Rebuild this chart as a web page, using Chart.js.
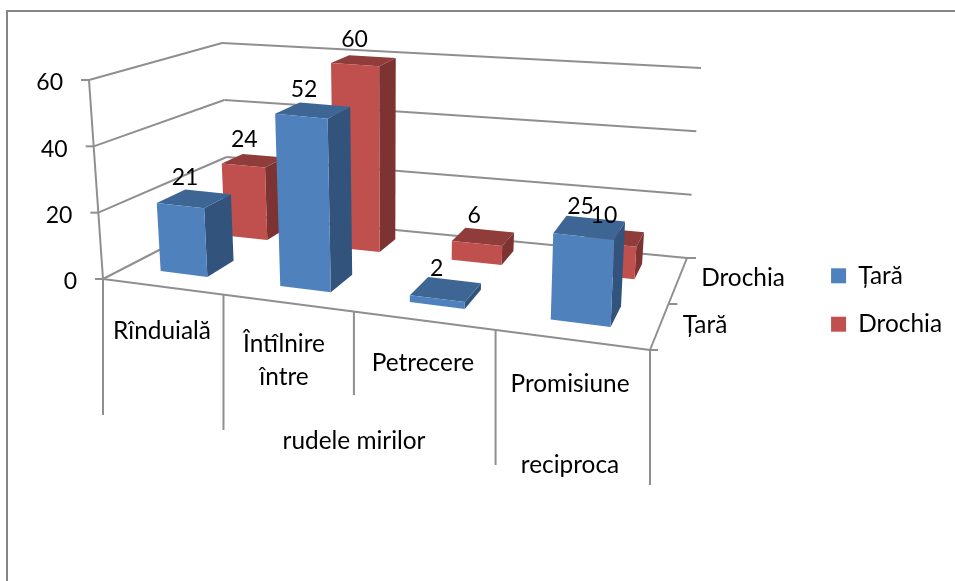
<!DOCTYPE html>
<html>
<head>
<meta charset="utf-8">
<title>Chart</title>
<script src="https://cdn.jsdelivr.net/npm/chart.js@4/dist/chart.umd.js"></script>
<style>
  html, body { margin: 0; padding: 0; background: #fff; overflow: hidden; }
  canvas { display: block; }
</style>
</head>
<body>
<canvas id="myChart" width="955" height="581"></canvas>
<script>
// values
const categories = ['Rînduială', 'Întîlnire între rudele mirilor', 'Petrecere', 'Promisiune reciproca'];
const seriesNames = ['Țară', 'Drochia'];
const taraValues = [21, 52, 2, 25];
const drochiaValues = [24, 60, 6, 10];
const yTicks = [0, 20, 40, 60];

// category axis text, wrapped the same way as the original
const axisText = ['Rînduială', 'Întîlnire', 'între', 'rudele mirilor', 'Petrecere', 'Promisiune', 'reciproca'];
const axisTextPos = [[162, 331], [284, 344], [284, 377], [354, 441], [423, 363], [570, 384], [570, 465]];
const tickEnds = [415, 430, 395, 465, 485];

// the box of the 3d plot on screen: floor and top, front and back corners
const floorFL = [103, 279], floorFR = [650, 350], floorBR = [687, 258], floorBL = [229, 214];
const topFL = [89, 80], topFR = [660, 135], topBR = [701, 68], topBL = [222, 43];
const perspective = 1.18;
// front and back of each series on the depth axis
const depthSlots = [[0.187, 0.42], [0.72, 0.89]];

const faceColors = [
  { front: '#4F81BD', top: '#3E6695', side: '#32547C' },
  { front: '#C0504D', top: '#8F3C3A', side: '#7C3331' }
];
const lineColor = '#8F8F8F';
const fontFamily = 'Lato, Carlito, sans-serif';
const textSize = 24.4;
const numberSize = 23;

function mix(a, b, k) {
  return [a[0] + (b[0] - a[0]) * k, a[1] + (b[1] - a[1]) * k];
}

// u along categories, v into the depth, h up the value axis, all 0..1
function project(u, v, h) {
  const t = u / (perspective - (perspective - 1) * u);
  const bottom = mix(mix(floorFL, floorFR, t), mix(floorBL, floorBR, t), v);
  const top = mix(mix(topFL, topFR, t), mix(topBL, topBR, t), v);
  return mix(bottom, top, h);
}

function line(ctx, a, b) {
  ctx.beginPath();
  ctx.moveTo(a[0], a[1]);
  ctx.lineTo(b[0], b[1]);
  ctx.stroke();
}

function face(ctx, pts, color) {
  ctx.fillStyle = color;
  ctx.beginPath();
  pts.forEach(function (p, i) {
    if (i === 0) ctx.moveTo(p[0], p[1]);
    else ctx.lineTo(p[0], p[1]);
  });
  ctx.closePath();
  ctx.fill();
}

function heightOf(scale, value) {
  return (scale.bottom - scale.getPixelForValue(value)) / (scale.bottom - scale.top);
}

const plot3d = {
  id: 'plot3d',
  beforeDatasetsDraw(chart) {
    const ctx = chart.ctx;
    const y = chart.scales.y;
    ctx.save();

    // outer frame, only left and top show
    ctx.strokeStyle = '#868686';
    ctx.lineWidth = 2;
    ctx.beginPath();
    ctx.moveTo(7, 581);
    ctx.lineTo(7, 11);
    ctx.lineTo(955, 11);
    ctx.stroke();

    ctx.strokeStyle = lineColor;
    ctx.lineWidth = 2;
    ctx.fillStyle = '#000';
    ctx.textBaseline = 'middle';

    // walls and value ticks
    ctx.font = numberSize + 'px ' + fontFamily;
    y.ticks.forEach(function (tick) {
      const h = heightOf(y, tick.value);
      const a = project(0, 0, h), b = project(0, 1, h), c = project(1, 1, h);
      line(ctx, a, b);
      line(ctx, b, c);
      line(ctx, [a[0] - 8, a[1]], a);
      ctx.textAlign = 'right';
      ctx.fillText(tick.label, a[0] - 26, a[1] + 3);
    });
    line(ctx, project(0, 0, 0), project(0, 0, 1));

    // floor edges
    line(ctx, project(0, 0, 0), project(1, 0, 0));
    line(ctx, project(1, 0, 0), project(1, 1, 0));
    line(ctx, project(1, 0, 0), [project(1, 0, 0)[0] + 8, project(1, 0, 0)[1]]);
    const midDepth = mix(project(1, 0, 0), project(1, 1, 0), 0.5);
    line(ctx, midDepth, [midDepth[0] + 9, midDepth[1]]);
    line(ctx, project(1, 1, 0), [project(1, 1, 0)[0] + 9, project(1, 1, 0)[1]]);

    // long category ticks under the floor
    tickEnds.forEach(function (end, i) {
      const p = project(i / categories.length, 0, 0);
      line(ctx, p, [p[0], end]);
    });

    ctx.font = textSize + 'px ' + fontFamily;
    ctx.textAlign = 'center';
    axisText.forEach(function (text, i) {
      ctx.fillText(text, axisTextPos[i][0], axisTextPos[i][1]);
    });
    ctx.fillText(seriesNames[1], 743, 278);
    ctx.fillText(seriesNames[0], 705, 325);
    ctx.restore();
  },
  // replaces the flat bar of each dataset with a box
  beforeDatasetDraw(chart, args) {
    const ctx = chart.ctx;
    const area = chart.chartArea;
    const y = chart.scales.y;
    const slot = depthSlots[args.index];
    const colors = faceColors[args.index];
    ctx.save();
    args.meta.data.forEach(function (bar, i) {
      const p = bar.getProps(['x', 'y', 'base', 'width'], true);
      const u0 = (p.x - p.width / 2 - area.left) / area.width;
      const u1 = (p.x + p.width / 2 - area.left) / area.width;
      const h = (y.bottom - p.y) / (y.bottom - y.top);
      const v0 = slot[0], v1 = slot[1];
      face(ctx, [project(u1, v0, 0), project(u1, v1, 0), project(u1, v1, h), project(u1, v0, h)], colors.side);
      face(ctx, [project(u0, v0, h), project(u1, v0, h), project(u1, v1, h), project(u0, v1, h)], colors.top);
      face(ctx, [project(u0, v0, 0), project(u1, v0, 0), project(u1, v0, h), project(u0, v0, h)], colors.front);
    });
    ctx.restore();
    return false;
  },
  afterDatasetsDraw(chart) {
    const ctx = chart.ctx;
    const area = chart.chartArea;
    const y = chart.scales.y;
    ctx.save();
    ctx.fillStyle = '#000';
    ctx.font = numberSize + 'px ' + fontFamily;
    ctx.textAlign = 'center';
    ctx.textBaseline = 'middle';
    [1, 0].forEach(function (index) {
      const slot = depthSlots[index];
      chart.getDatasetMeta(index).data.forEach(function (bar, i) {
        const p = bar.getProps(['x', 'y'], true);
        const u = (p.x - area.left) / area.width;
        const h = (y.bottom - p.y) / (y.bottom - y.top);
        const c = project(u, (slot[0] + slot[1]) / 2, h);
        ctx.fillText(chart.data.datasets[index].data[i], c[0] - 9, c[1] - 21);
      });
    });
    ctx.restore();
  }
};

window.addEventListener('load', function () {
  const ctx = document.getElementById('myChart').getContext('2d');
  const myChart = new Chart(ctx, {
    type: 'bar',
    data: {
      labels: categories,
      datasets: [{
        label: seriesNames[0],
        data: taraValues,
        backgroundColor: faceColors[0].front
      }, {
        label: seriesNames[1],
        data: drochiaValues,
        backgroundColor: faceColors[1].front
      }]
    },
    options: {
      responsive: false,
      animation: false,
      layout: { padding: { top: 19, right: 3, bottom: 0, left: 90 } },
      datasets: { bar: { grouped: false, categoryPercentage: 1, barPercentage: 0.4 } },
      scales: {
        x: { display: false },
        y: {
          display: false,
          min: 0,
          max: 60,
          afterBuildTicks: function (axis) {
            axis.ticks = yTicks.map(function (v) { return { value: v, label: String(v) }; });
          }
        }
      },
      plugins: {
        tooltip: { enabled: false },
        legend: {
          position: 'right',
          labels: {
            boxWidth: 15,
            boxHeight: 15,
            padding: 24,
            color: '#000',
            font: { family: fontFamily, size: textSize }
          }
        }
      }
    },
    plugins: [plot3d]
  });
});
</script>
</body>
</html>
